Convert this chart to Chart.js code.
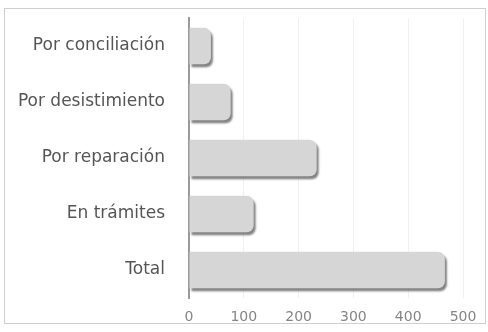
<!DOCTYPE html>
<html>
<head>
<meta charset="utf-8">
<script src="https://cdn.jsdelivr.net/npm/chart.js@4/dist/chart.umd.min.js"></script>
<style>
  html, body { margin: 0; padding: 0; background: #fff; }
  #frame {
    position: absolute; left: 4px; top: 8px;
    width: 480px; height: 314px;
    border: 1px solid #cfcfcf;
  }
  #wrap { position: absolute; left: 0; top: 0; width: 488px; height: 332px; }
</style>
</head>
<body>
<div id="frame"></div>
<div id="wrap"><canvas id="chart" width="488" height="332"></canvas></div>
<script>
const categories = ['Por conciliación', 'Por desistimiento', 'Por reparación', 'En trámites', 'Total'];
const values = [40, 76, 233, 118, 467];
const tickValues = [0, 100, 200, 300, 400, 500];

// soft drop shadow under each bar
const barShadow = {
    id: 'barShadow',
    beforeDatasetsDraw(chart) {
        const ctx = chart.ctx;
        ctx.save();
        ctx.shadowColor = 'rgba(90, 90, 90, 0.75)';
        ctx.shadowOffsetX = 2;
        ctx.shadowOffsetY = 3;
        ctx.shadowBlur = 2;
    },
    afterDatasetsDraw(chart) {
        chart.ctx.restore();
    }
};

new Chart(document.getElementById('chart'), {
    type: 'bar',
    data: {
        labels: categories,
        datasets: [{
            data: values,
            backgroundColor: '#d6d6d6',
            borderWidth: 0,
            borderSkipped: false,
            borderRadius: { topLeft: 0, bottomLeft: 0, topRight: 7, bottomRight: 7 },
            categoryPercentage: 1,
            barPercentage: 0.65
        }]
    },
    options: {
        indexAxis: 'y',
        responsive: false,
        animation: false,
        layout: { padding: { top: 18, right: 25, bottom: 0, left: 0 } },
        plugins: {
            legend: { display: false },
            tooltip: { enabled: false }
        },
        scales: {
            x: {
                min: 0,
                max: 500,
                afterBuildTicks(axis) {
                    axis.ticks = tickValues.map(v => ({ value: v }));
                },
                afterFit(axis) { axis.height = 34; },
                grid: { color: '#f0f0f0', drawTicks: false },
                border: { display: false },
                ticks: {
                    color: '#858585',
                    padding: 11,
                    font: { family: 'DejaVu Sans', size: 14 }
                }
            },
            y: {
                afterFit(axis) {
                    axis.width = 189;
                    axis.paddingTop = 0;
                    axis.paddingBottom = 0;
                },
                grid: { display: false, drawTicks: false },
                border: { display: true, color: '#9a9a9a', width: 2 },
                ticks: {
                    color: '#555555',
                    padding: 24,
                    font: { family: 'DejaVu Sans', size: 17 }
                }
            }
        }
    },
    plugins: [barShadow]
});
</script>
</body>
</html>
